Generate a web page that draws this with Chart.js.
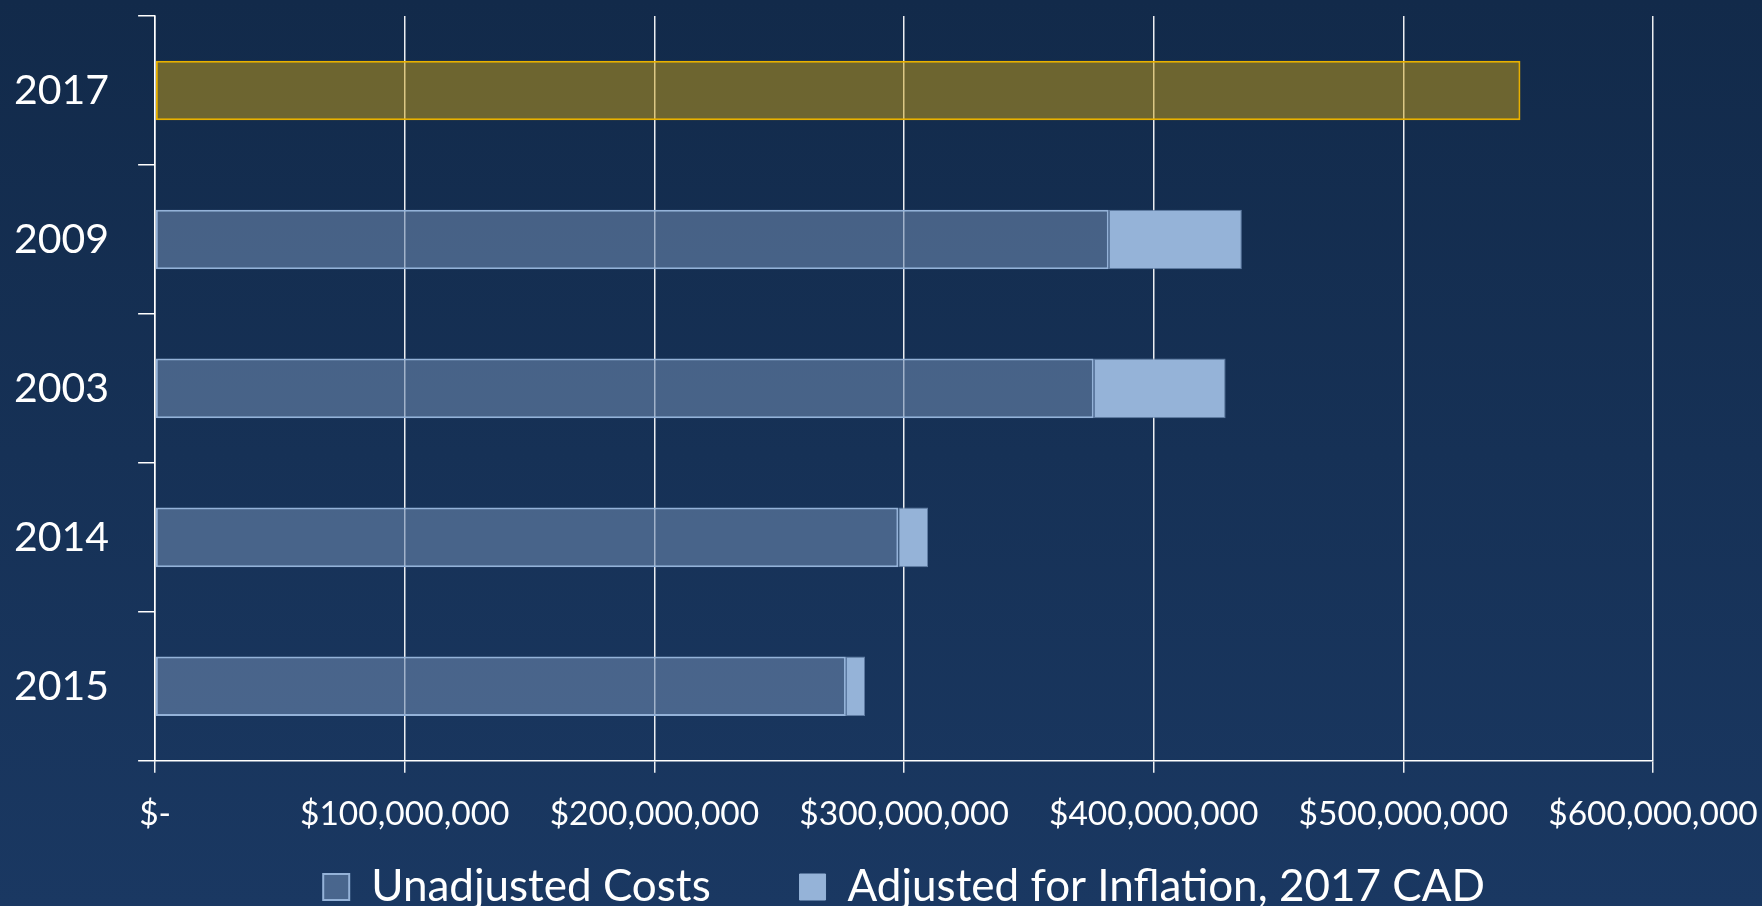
<!DOCTYPE html>
<html>
<head>
<meta charset="utf-8">
<title>Costs by year</title>
<script src="https://cdn.jsdelivr.net/npm/chart.js@4.4.1/dist/chart.umd.min.js"></script>
<style>
  html, body { margin: 0; padding: 0; overflow: hidden; }
  body {
    width: 1762px;
    height: 906px;
    background: linear-gradient(to bottom, #122a4a 0%, #1a3862 100%);
    font-family: Lato, sans-serif;
  }
  #wrap { position: relative; width: 1762px; height: 919px; }
</style>
</head>
<body>
<div id="wrap"><canvas id="costChart" width="1762" height="919"></canvas></div>
<script>
// values, in dollars
const years = ['2017', '2009', '2003', '2014', '2015'];
const unadjustedCosts = [546900000, 382000000, 376000000, 297700000, 276700000];
const adjustedCosts = [546900000, 435300000, 428800000, 309600000, 284400000];
const xTickLabels = ['$-', '$100,000,000', '$200,000,000', '$300,000,000',
                     '$400,000,000', '$500,000,000', '$600,000,000'];
const seriesNames = ['Unadjusted Costs', 'Adjusted for Inflation, 2017 CAD'];

const DARK_FILL = 'rgba(108,136,174,0.58)';
const DARK_LINE = '#94b2d8';
const LIGHT_FILL = '#95b3d8';
const LIGHT_LINE = '#5f7ca3';
const GOLD_FILL = 'rgba(205,162,21,0.49)';
const GOLD_LINE = '#e8b100';

Chart.defaults.font.family = 'Lato, "Open Sans", sans-serif';
Chart.defaults.color = '#ffffff';

// the adjusted part starts where the unadjusted bar ends
const adjustedSpans = adjustedCosts.map((v, i) =>
    v > unadjustedCosts[i] ? [unadjustedCosts[i], v] : null);

document.addEventListener('DOMContentLoaded', () => {
    const ctx = document.getElementById('costChart').getContext('2d');

    // 2017 is drawn as a single gold bar
    const isHighlight = (c) => c.type === 'data' && c.dataIndex === 0;

    new Chart(ctx, {
        type: 'bar',
        data: {
            labels: years,
            datasets: [{
                label: seriesNames[0],
                data: unadjustedCosts,
                backgroundColor: c => isHighlight(c) ? GOLD_FILL : DARK_FILL,
                borderColor: c => isHighlight(c) ? GOLD_LINE : DARK_LINE,
                borderWidth: 2,
                borderSkipped: false
            }, {
                label: seriesNames[1],
                data: adjustedSpans,
                backgroundColor: LIGHT_FILL,
                borderColor: LIGHT_LINE,
                borderWidth: 1,
                borderSkipped: false
            }]
        },
        options: {
            indexAxis: 'y',
            responsive: false,
            animation: false,
            grouped: false,
            categoryPercentage: 1,
            barPercentage: 0.4,
            layout: {
                padding: { left: 14, top: 16, right: 109, bottom: 0 }
            },
            scales: {
                x: {
                    min: 0,
                    max: 600000000,
                    ticks: {
                        stepSize: 100000000,
                        color: '#ffffff',
                        font: { size: 33.5 },
                        padding: 21,
                        maxRotation: 0,
                        autoSkip: false,
                        callback: (value, i) => xTickLabels[i]
                    },
                    grid: {
                        color: 'rgba(255,255,255,0.92)',
                        lineWidth: 1.5,
                        tickLength: 12
                    },
                    border: { color: '#ffffff', width: 1.5 },
                    afterFit: (scale) => {
                        scale.paddingLeft = 0;
                        scale.paddingRight = 0;
                    }
                },
                y: {
                    ticks: {
                        color: '#ffffff',
                        font: { size: 41 },
                        padding: 29
                    },
                    grid: {
                        drawOnChartArea: false,
                        offset: true,
                        tickLength: 17,
                        color: '#ffffff',
                        lineWidth: 1.5
                    },
                    border: { color: '#ffffff', width: 1.5 },
                    afterFit: (scale) => {
                        scale.paddingTop = 0;
                        scale.paddingBottom = 0;
                        // chart.js reserves the tick padding twice
                        scale.width -= 29;
                    }
                }
            },
            plugins: {
                tooltip: { enabled: false },
                legend: {
                    position: 'bottom',
                    fullSize: false,
                    labels: {
                        color: '#ffffff',
                        font: { size: 44 },
                        boxWidth: 26,
                        boxHeight: 26,
                        padding: 10,
                        generateLabels: (chart) => {
                            const items = Chart.defaults.plugins.legend.labels.generateLabels(chart);
                            items[0].fillStyle = DARK_FILL;
                            items[0].strokeStyle = DARK_LINE;
                            items[0].lineWidth = 2;
                            items[1].fillStyle = LIGHT_FILL;
                            items[1].strokeStyle = LIGHT_FILL;
                            items[1].lineWidth = 1;
                            // wider gap after the first entry
                            items[0].text = items[0].text + '       ';
                            return items;
                        }
                    }
                }
            }
        }
    });
});
</script>
</body>
</html>
